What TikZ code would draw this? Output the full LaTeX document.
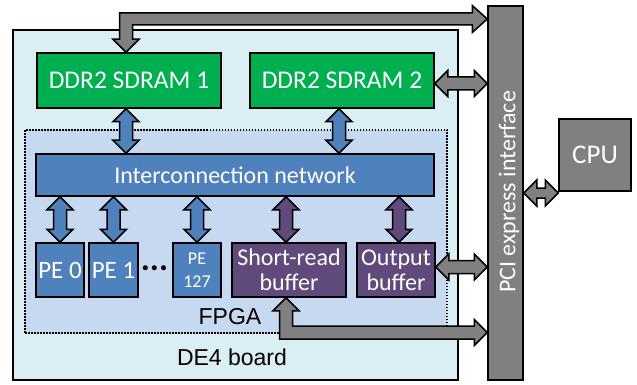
\documentclass[tikz,border=0pt]{standalone}
\usepackage{fontspec}
\setmainfont{Carlito}
\newfontfamily\arialfont{Liberation Sans}
\usetikzlibrary{calc}
\definecolor{boardbg}{RGB}{218,238,243}
\definecolor{fpgabg}{RGB}{198,217,241}
\definecolor{ddrgreen}{RGB}{0,176,80}
\definecolor{peblue}{RGB}{79,129,189}
\definecolor{bufpurple}{RGB}{96,74,123}
\definecolor{busgray}{RGB}{128,128,128}
\tikzset{
  font={\fontsize{24}{25}\selectfont},
  box/.style={draw=black, line width=1.5pt, text=white, align=center, inner sep=0pt},
  fatarrow/.style={draw=black, line width=1.5pt, line join=miter}}

% vertical double arrow: colour, upper point, lower point
\newcommand{\vlink}[4][6.5pt]{%
  \draw[fatarrow, fill=#2] let \p1=(#3), \p2=(#4) in
    (\x1,\y1) -- (\x1+13pt,\y1-13pt) -- (\x1+#1,\y1-13pt) -- (\x1+#1,\y2+13pt)
    -- (\x1+13pt,\y2+13pt) -- (\x1,\y2) -- (\x1-13pt,\y2+13pt) -- (\x1-#1,\y2+13pt)
    -- (\x1-#1,\y1-13pt) -- (\x1-13pt,\y1-13pt) -- cycle;}
% horizontal double arrow: colour, left point, right point
\newcommand{\hlink}[4][6.5pt]{%
  \draw[fatarrow, fill=#2] let \p1=(#3), \p2=(#4) in
    (\x1,\y1) -- (\x1+13pt,\y1+13pt) -- (\x1+13pt,\y1+#1) -- (\x2-13pt,\y1+#1)
    -- (\x2-13pt,\y1+13pt) -- (\x2,\y1) -- (\x2-13pt,\y1-13pt) -- (\x2-13pt,\y1-#1)
    -- (\x1+13pt,\y1-#1) -- (\x1+13pt,\y1-13pt) -- cycle;}

\begin{document}
\begin{tikzpicture}[x=1pt, y=-1pt]
\useasboundingbox (0,0) rectangle (637,385);
% board and FPGA
\node[draw=black, line width=1.5pt, fill=boardbg, minimum width=445pt, minimum height=350pt] (board) at (235.5,205) {};
\node[draw=black, line width=1.5pt, dash pattern=on 1.5pt off 1.5pt, fill=fpgabg, minimum width=422pt, minimum height=203pt] (fpga) at (236,231.5) {};
\node[font={\arialfont\fontsize{23}{26}\selectfont}] (fpgalbl) at (230,317) {FPGA};
\node[font={\arialfont\fontsize{23}{26}\selectfont}] (boardlbl) at (232,357) {DE4 board};
% PCI bar and CPU
\node[box, fill=busgray, minimum width=35pt, minimum height=374pt] (pci) at (505.5,193) {};
\node[text=white, rotate=90] (pcilbl) at (509,192) {PCI express interface};
\node[box, fill=busgray, minimum width=72pt, minimum height=72pt, font={\fontsize{27}{28}\selectfont}] (cpu) at (595,155) {CPU};
% memories
\node[box, fill=ddrgreen, minimum width=184pt, minimum height=55pt, font={\fontsize{25.5}{26}\selectfont}] (ddr1) at (129,80.5) {DDR2 SDRAM 1};
\node[box, fill=ddrgreen, minimum width=184pt, minimum height=55pt, font={\fontsize{25.5}{26}\selectfont}] (ddr2) at (342,80.5) {DDR2 SDRAM 2};
% network and processing elements
\node[box, fill=peblue, minimum width=398pt, minimum height=42pt] (icn) at (235,175) {Interconnection network};
\node[box, fill=peblue, minimum width=48pt, minimum height=54pt, font={\fontsize{25}{26}\selectfont}] (pe0) at (60,270) {PE 0};
\node[box, fill=peblue, minimum width=49pt, minimum height=54pt, font={\fontsize{25}{26}\selectfont}] (pe1) at (113.5,270) {PE 1};
\node[anchor=base, inner sep=0pt, font={\fontsize{34}{34}\selectfont\bfseries}] (dots) at (154.5,270.5) {...};
\node[box, fill=peblue, minimum width=48pt, minimum height=54pt, font={\fontsize{18}{23}\selectfont}] (pe127) at (197,270) {PE\\127};
\node[box, fill=bufpurple, minimum width=114pt, minimum height=54pt] (srb) at (289,270) {Short-read\\buffer};
\node[box, fill=bufpurple, minimum width=78pt, minimum height=54pt] (ob) at (396,270) {Output\\buffer};
% links
\vlink{peblue}{[xshift=-3pt]ddr1.south}{icn.north}
\vlink{peblue}{[xshift=-3pt]ddr2.south}{icn.north}
\vlink{peblue}{pe0.north |- icn.south}{pe0.north}
\vlink{peblue}{pe1.north |- icn.south}{pe1.north}
\vlink{peblue}{pe127.north |- icn.south}{pe127.north}
\vlink{bufpurple}{[xshift=-3pt]srb.north |- icn.south}{srb.north}
\vlink{bufpurple}{[xshift=3pt]ob.north |- icn.south}{ob.north}
\hlink{busgray}{[yshift=-3pt]ddr2.east}{pci.west}
\hlink{busgray}{[yshift=3pt]ob.east}{pci.west}
\hlink[5pt]{busgray}{pci.east}{cpu.west}
% host bus to DDR2 SDRAM 1
\coordinate (topbend) at (126,19);
\draw[fatarrow, fill=busgray] let \p1=([xshift=-3pt]ddr1.north), \p2=(topbend), \p3=(pci.west) in
  (\x1,\y1) -- (\x1+13pt,\y1+13pt) -- (\x1+6.5pt,\y1+13pt) -- (\x1+6.5pt,\y2-6pt)
  -- (\x3-15pt,\y2-6pt) -- (\x3-15pt,\y2-13.5pt) -- (\x3,\y2) -- (\x3-15pt,\y2+13.5pt)
  -- (\x3-15pt,\y2+6pt) -- (\x1-6.5pt,\y2+6pt) -- (\x1-6.5pt,\y1+13pt) -- (\x1-13pt,\y1+13pt) -- cycle;
% host bus to short-read buffer
\coordinate (botbend) at (286,332.5);
\draw[fatarrow, fill=busgray] let \p1=([xshift=-3pt]srb.south), \p2=(botbend), \p3=(pci.west) in
  (\x1,\y1) -- (\x1+13pt,\y1-13pt) -- (\x1+6.5pt,\y1-13pt) -- (\x1+6.5pt,\y2+6.5pt)
  -- (\x3-13pt,\y2+6.5pt) -- (\x3-13pt,\y2+13pt) -- (\x3,\y2) -- (\x3-13pt,\y2-13pt)
  -- (\x3-13pt,\y2-6.5pt) -- (\x1-6.5pt,\y2-6.5pt) -- (\x1-6.5pt,\y1-13pt) -- (\x1-13pt,\y1-13pt) -- cycle;
\end{tikzpicture}
\end{document}
